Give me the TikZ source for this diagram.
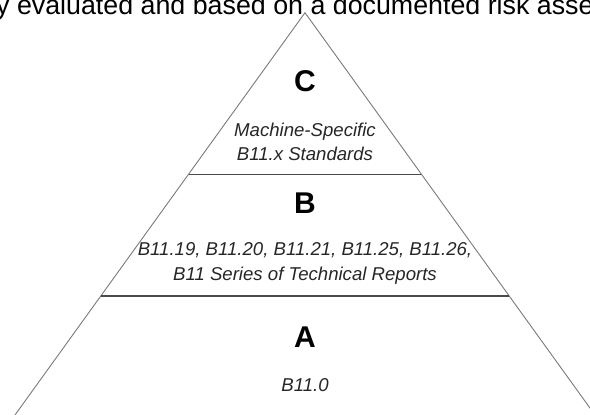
\documentclass[tikz,border=0pt]{standalone}
\usepackage{fontspec}
\setmainfont{Liberation Sans}
\usetikzlibrary{calc}
\definecolor{sidegray}{HTML}{7A7A7A}
\definecolor{divgray}{HTML}{4A4A4A}
\definecolor{txtgray}{HTML}{262626}
\tikzset{
  sideline/.style={draw=sidegray, line width=0.9pt},
  divline/.style={draw=divgray, line width=1.1pt},
  levelletter/.style={anchor=base, inner sep=0pt, font=\fontsize{30}{34}\selectfont\bfseries, text=black},
  leveltext/.style={anchor=base, inner sep=0pt, font=\fontsize{18.6}{22}\selectfont\itshape, text=txtgray},
  headtext/.style={anchor=base west, inner sep=0pt, font=\fontsize{26.8}{30}\selectfont, text=black}
}
\begin{document}
\begin{tikzpicture}[x=1pt,y=-1pt]
\useasboundingbox (0,0) rectangle (590,415);
\clip (0,0) rectangle (590,415);
\node[headtext] (head) at (-4,14) {y evaluated and based on a documented risk assessment};
\coordinate (apex) at (305,12.7);
\coordinate (bl) at (15,415);
\coordinate (br) at (595,415);
\draw[sideline] (bl) -- (apex) -- (br);
\coordinate (d1l) at ($(apex)!0.4017!(bl)$);
\coordinate (d1r) at ($(apex)!0.4017!(br)$);
\coordinate (d2l) at ($(apex)!0.7042!(bl)$);
\coordinate (d2r) at ($(apex)!0.7042!(br)$);
\draw[divline] (d1l) -- (d1r);
\draw[divline] (d2l) -- (d2r);
\node[levelletter] (C) at (305,91.8) {C};
\node[leveltext] (c1) at (305,136) {Machine-Specific};
\node[leveltext] (c2) at (305,160) {B11.x Standards};
\node[levelletter] (B) at (305,213) {B};
\node[leveltext] (b1) at (305,255.5) {B11.19, B11.20, B11.21, B11.25, B11.26,};
\node[leveltext] (b2) at (305,280.5) {B11 Series of Technical Reports};
\node[levelletter] (A) at (305,347.5) {A};
\node[leveltext] (a1) at (305,391.5) {B11.0};
\end{tikzpicture}
\end{document}
